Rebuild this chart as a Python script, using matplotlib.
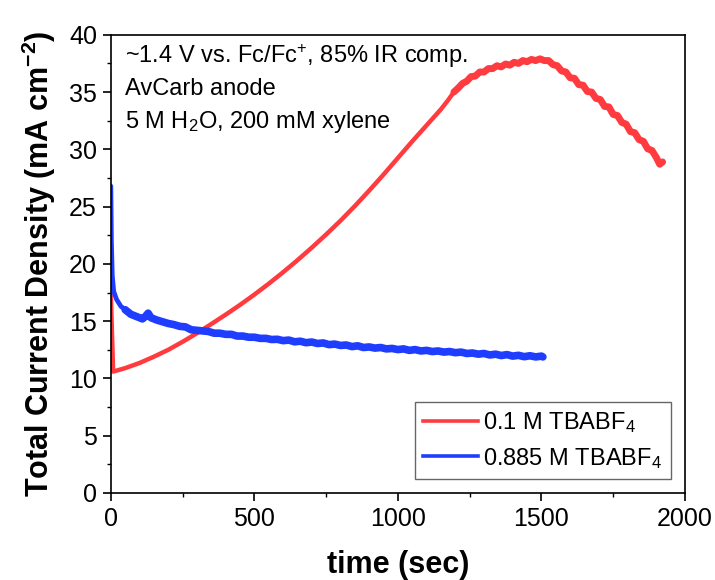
import matplotlib
matplotlib.use("Agg")
import matplotlib.pyplot as plt
from matplotlib.ticker import MultipleLocator
from matplotlib.lines import Line2D

plt.rcParams['font.family'] = ['Liberation Sans', 'DejaVu Sans']
plt.rcParams['mathtext.fontset'] = 'custom'
plt.rcParams['mathtext.rm'] = 'Liberation Sans'
plt.rcParams['mathtext.bf'] = 'Liberation Sans:bold'
plt.rcParams['mathtext.default'] = 'regular'

# 0.1 M TBABF4
red_t = [0, 8, 50, 100, 150, 200, 250, 300, 350, 400, 450, 500, 550, 600, 650, 700,
         750, 800, 850, 900, 950, 1000, 1050, 1100, 1150, 1175, 1195,
         1210, 1225, 1240, 1255, 1270, 1285, 1300, 1315, 1330, 1345, 1360, 1375, 1390,
         1405, 1420, 1435, 1450, 1465, 1480, 1495, 1510, 1525, 1540, 1555, 1570, 1585,
         1600, 1615, 1630, 1645, 1660, 1675, 1690, 1705, 1720, 1735, 1750, 1765, 1780,
         1795, 1810, 1825, 1840, 1855, 1870, 1885, 1900, 1912, 1922]
red_j = [17.3, 10.6, 10.9, 11.35, 11.9, 12.5, 13.2, 13.95, 14.75, 15.57, 16.42, 17.32,
         18.27, 19.27, 20.32, 21.42, 22.57, 23.77, 25.05, 26.4, 27.8, 29.25, 30.7, 32.1,
         33.5, 34.3, 35.0,
         35.35, 35.75, 35.95, 36.35, 36.4, 36.75, 36.75, 37.05, 37.05, 37.3, 37.2, 37.45,
         37.35, 37.6, 37.5, 37.75, 37.65, 37.85, 37.75, 37.9, 37.75, 37.75, 37.4, 37.3,
         36.85, 36.75, 36.25, 36.2, 35.65, 35.6, 35.05, 35.0, 34.45, 34.35, 33.75, 33.7,
         33.05, 32.95, 32.35, 32.2, 31.55, 31.45, 30.85, 30.7, 30.05, 29.9, 29.3, 28.7,
         28.9]

# 0.885 M TBABF4
blue_t = [0, 2, 5, 10, 20, 35, 50, 70, 90, 110, 120, 130, 140, 160, 180,
          200, 220, 240, 260, 280, 300, 320, 340, 360, 380, 400, 420, 440, 460, 480,
          500, 520, 540, 560, 580, 600, 620, 640, 660, 680, 700, 720, 740, 760, 780,
          800, 820, 840, 860, 880, 900, 920, 940, 960, 980, 1000, 1020, 1040, 1060,
          1080, 1100, 1120, 1140, 1160, 1180, 1200, 1220, 1240, 1260, 1280, 1300,
          1320, 1340, 1360, 1380, 1400, 1420, 1440, 1460, 1480, 1500, 1505]
blue_j = [26.8, 22.0, 19.0, 17.6, 16.9, 16.3, 16.0, 15.6, 15.4, 15.2, 15.4, 15.7, 15.3,
          15.1, 14.95,
          14.8, 14.7, 14.55, 14.5, 14.25, 14.2, 14.15, 14.1, 13.95, 13.95, 13.85, 13.85,
          13.7, 13.7, 13.6, 13.6, 13.5, 13.5, 13.4, 13.42, 13.3, 13.35, 13.2, 13.25,
          13.12, 13.18, 13.05, 13.1, 12.95, 13.0, 12.88, 12.92, 12.78, 12.85, 12.7, 12.75,
          12.65, 12.7, 12.58, 12.62, 12.52, 12.58, 12.45, 12.52, 12.4, 12.45, 12.35, 12.4,
          12.3, 12.35, 12.25, 12.3, 12.18, 12.22, 12.12, 12.18, 12.05, 12.12, 12.0, 12.08,
          11.95, 12.02, 11.9, 11.98, 11.88, 11.95, 11.88]

series_labels = ['0.1 M TBABF$_4$', '0.885 M TBABF$_4$']
annot_lines = ['~1.4 V vs. Fc/Fc$^{+}$, 85% IR comp.',
               'AvCarb anode',
               '5 M H$_2$O, 200 mM xylene']

RED = '#FF3B3F'
BLUE = '#1F3DFF'

fig = plt.figure(figsize=(7.15, 5.8), dpi=100)
ax = fig.add_axes([0.155, 0.15, 0.803, 0.79])

# red: clean part thinner, noisy part (after ~1190 s) drawn as a wider band
rs = red_t.index(1195)
ax.plot(red_t[:rs + 1], red_j[:rs + 1], color=RED, lw=3.2,
        solid_joinstyle='round', solid_capstyle='round')
ax.plot(red_t[rs:], red_j[rs:], color=RED, lw=5.0,
        solid_joinstyle='round', solid_capstyle='round')

# blue: steep initial drop thinner, noisy plateau as a wider band
bs = blue_t.index(50)
ax.plot(blue_t[:bs + 1], blue_j[:bs + 1], color=BLUE, lw=3.4,
        solid_joinstyle='round', solid_capstyle='round')
ax.plot(blue_t[bs:], blue_j[bs:], color=BLUE, lw=5.5,
        solid_joinstyle='round', solid_capstyle='round')

ax.set_xlim(0, 2000)
ax.set_ylim(0, 40)
ax.xaxis.set_major_locator(MultipleLocator(500))
ax.xaxis.set_minor_locator(MultipleLocator(250))
ax.yaxis.set_major_locator(MultipleLocator(5))
ax.yaxis.set_minor_locator(MultipleLocator(2.5))
ax.tick_params(which='major', direction='out', length=6, width=1.2, labelsize=18,
               top=False, right=False, pad=4)
ax.tick_params(which='minor', direction='out', length=3, width=1.0, top=False, right=False)
for s in ax.spines.values():
    s.set_linewidth(1.2)

ax.set_xlabel('time (sec)', fontsize=22, fontweight='bold', labelpad=14)
ax.set_ylabel(r'Total Current Density (mA cm$^{\mathbf{-2}}$)', fontsize=22,
              fontweight='bold', labelpad=8)

ys = [0.939, 0.869, 0.797]
for txt, y in zip(annot_lines, ys):
    ax.text(0.024, y, txt, transform=ax.transAxes, fontsize=17, va='baseline', ha='left')

handles = [Line2D([], [], color=RED, lw=2.6), Line2D([], [], color=BLUE, lw=2.6)]
leg = ax.legend(handles, series_labels, loc='lower right', fontsize=17, frameon=True,
                fancybox=False, edgecolor='#404040', borderaxespad=0.6, handlelength=2.3,
                handletextpad=0.25, labelspacing=0.45, borderpad=0.35)
leg.get_frame().set_linewidth(1.0)

fig.savefig('out.png', dpi=100)
